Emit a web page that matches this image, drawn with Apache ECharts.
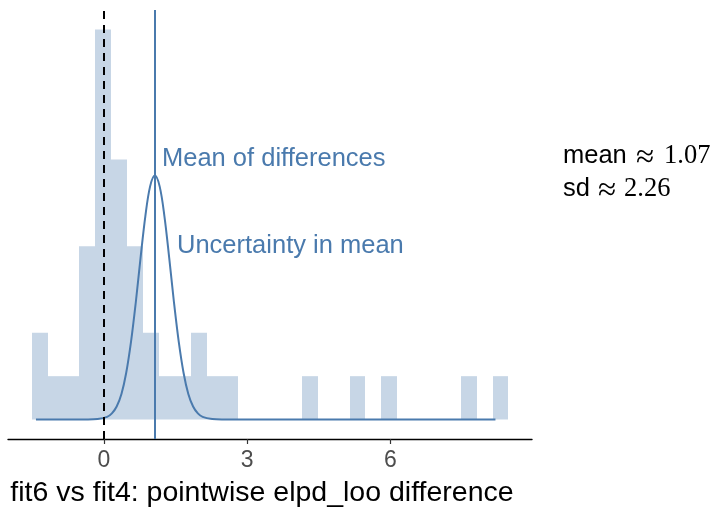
<!DOCTYPE html>
<html>
<head>
<meta charset="utf-8">
<script src="https://cdn.jsdelivr.net/npm/echarts@6/dist/echarts.min.js"></script>
<style>html,body{margin:0;padding:0;background:#fff}#c{width:719px;height:509px}</style>
</head>
<body>
<div id="c"></div>
<script>
// Histogram of pointwise elpd_loo differences (30 bins)
const binStart = -1.506;
const binWidth = 0.3326;
const binCounts = [2,1,1,4,9,6,4,2,1,1,2,1,1,0,0,0,0,1,0,0,1,0,1,0,0,0,0,1,0,1];
// "Uncertainty in mean" curve
const curveX = [-1.42,-0.33,-0.13,0.07,0.17,0.27,0.37,0.47,0.57,0.67,0.77,0.87,0.97,1.07,1.17,1.27,1.37,1.47,1.57,1.67,1.77,1.87,1.97,2.07,2.27,2.47,8.2];
const curveY = [0,0,0.01,0.06,0.14,0.30,0.59,1.08,1.79,2.70,3.73,4.69,5.38,5.63,5.38,4.69,3.73,2.70,1.79,1.08,0.59,0.30,0.14,0.06,0.01,0,0];
const meanDiff = 1.07;
const sdDiff = 2.26;
const refLine = 0;
const tickValues = [0, 3, 6];
const xTitle = 'fit6 vs fit4: pointwise elpd_loo difference';

const blue = '#4a7aad';
const sans = 'Liberation Sans, Arial, sans-serif';
const serif = 'Liberation Serif, Times New Roman, serif';
const histData = binCounts.map((c, i) => [binStart + i * binWidth, binStart + (i + 1) * binWidth, c]).filter(d => d[2] > 0);
const curveData = curveX.map((x, i) => [x, curveY[i]]);

const chart = echarts.init(document.getElementById('c'), null, {renderer: 'canvas'});
chart.setOption({
  animation: false,
  grid: {left: 8, right: 187, top: 10, bottom: 70, containLabel: false, outerBoundsMode: 'none'},
  xAxis: {
    type: 'value', min: -2.005, max: 8.965,
    splitLine: {show: false},
    axisLine: {show: true, onZero: false, lineStyle: {color: '#000', width: 1.4}},
    axisTick: {show: true, customValues: tickValues, length: 5, lineStyle: {color: '#333', width: 1.2}},
    axisLabel: {show: true, customValues: tickValues, color: '#4d4d4d', fontSize: 23, fontFamily: sans, margin: 10},
    name: xTitle, nameLocation: 'middle', nameGap: 40, nameMoveOverlap: false,
    nameTextStyle: {color: '#000', fontSize: 28.5, fontFamily: sans, padding: [0, 16, 0, 0]}
  },
  yAxis: {type: 'value', min: -0.45, max: 9.45, show: false, splitLine: {show: false}},
  series: [
    {
      type: 'custom',
      data: histData,
      encode: {x: [0, 1], y: 2},
      renderItem: function (params, api) {
        const p0 = api.coord([api.value(0), api.value(2)]);
        const p1 = api.coord([api.value(1), 0]);
        const x0 = Math.round(p0[0]), x1 = Math.round(p1[0]);
        return {type: 'rect', shape: {x: x0, y: p0[1], width: x1 - x0, height: p1[1] - p0[1]}, style: {fill: '#c7d6e6'}};
      },
      z: 1
    },
    {
      type: 'line', data: curveData, showSymbol: false, smooth: 0.35,
      lineStyle: {color: blue, width: 2}, z: 3,
      markLine: {
        silent: true, symbol: 'none', label: {show: false},
        data: [
          {xAxis: meanDiff, lineStyle: {color: blue, width: 2, type: 'solid'}},
          {xAxis: refLine, lineStyle: {color: '#000', width: 2, type: [8, 6]}}
        ]
      }
    }
  ],
  graphic: [
    {type: 'text', x: 162, y: 159, style: {text: 'Mean of differences', fill: blue, fontSize: 25.5, fontFamily: sans, verticalAlign: 'middle'}},
    {type: 'text', x: 177, y: 246, style: {text: 'Uncertainty in mean', fill: blue, fontSize: 25.5, fontFamily: sans, verticalAlign: 'middle'}},
    {type: 'text', x: 563, y: 156, style: {text: 'mean', fill: '#000', fontSize: 25.5, fontFamily: sans, verticalAlign: 'middle'}},
    {type: 'text', x: 636, y: 158, style: {text: '≈', fill: '#000', fontSize: 33, fontFamily: serif, verticalAlign: 'middle'}},
    {type: 'text', x: 664, y: 156, style: {text: meanDiff.toFixed(2), fill: '#000', fontSize: 26.5, fontFamily: serif, verticalAlign: 'middle'}},
    {type: 'text', x: 563, y: 189, style: {text: 'sd', fill: '#000', fontSize: 25.5, fontFamily: sans, verticalAlign: 'middle'}},
    {type: 'text', x: 598, y: 191, style: {text: '≈', fill: '#000', fontSize: 33, fontFamily: serif, verticalAlign: 'middle'}},
    {type: 'text', x: 624, y: 189, style: {text: sdDiff.toFixed(2), fill: '#000', fontSize: 26.5, fontFamily: serif, verticalAlign: 'middle'}}
  ]
});
</script>
</body>
</html>
